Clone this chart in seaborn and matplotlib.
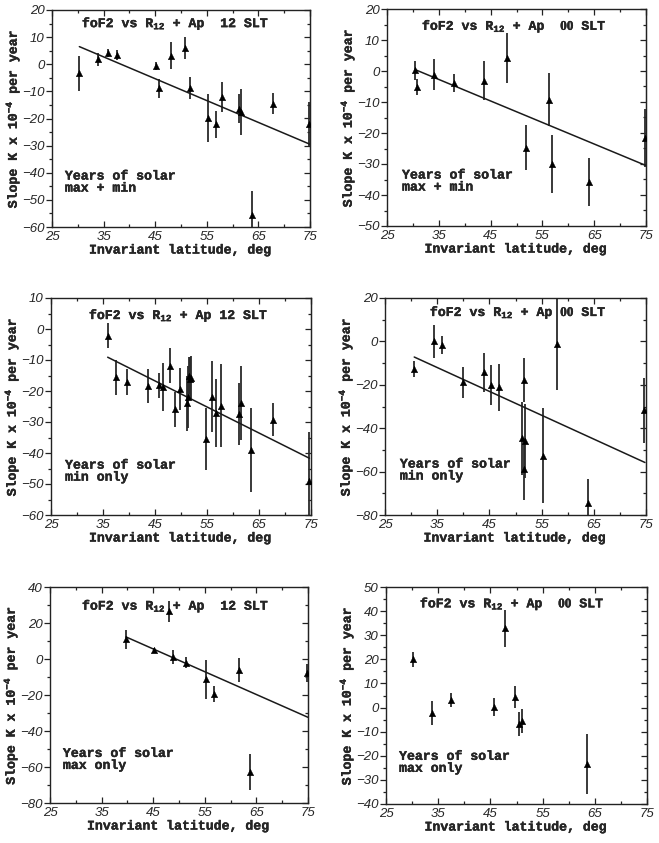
import numpy as np
import pandas as pd
import matplotlib
matplotlib.use("Agg")
import matplotlib.pyplot as plt
from matplotlib.ticker import MultipleLocator
import matplotlib.patheffects as pe
import seaborn as sns

# ---------------- data ----------------
# Panel 1: max + min, 12 SLT
lat1 = [30.3, 33.9, 35.8, 37.6, 45.1, 45.8, 48.0, 50.8, 51.8, 55.3, 56.8, 58.0, 61.3, 61.6, 63.7, 67.9, 74.9]
k1 = [-3.4, 1.8, 4.0, 3.4, -0.6, -8.9, 3.1, 6.1, -8.7, -19.8, -22.1, -12.2, -16.4, -17.6, -55.7, -14.5, -22.1]
e1 = [6.5, 2.5, 1.5, 2.0, 1.5, 3.5, 5.0, 4.0, 4.0, 8.7, 5.0, 5.5, 5.3, 8.5, 9.0, 4.0, 8.0]
fitlat1 = [30.3, 75.0]
fitk1 = [6.5, -29.5]

# Panel 2: max + min, 00 SLT
lat2 = [30.5, 30.85, 34.1, 37.85, 43.8, 48.1, 51.9, 56.2, 56.8, 63.9, 74.8]
k2 = [0.2, -5.2, -1.2, -3.9, -3.2, 4.1, -24.7, -9.3, -30.0, -35.9, -21.7]
e2 = [3.0, 2.7, 5.0, 3.0, 6.3, 8.0, 7.3, 8.5, 9.4, 7.7, 9.4]
fitlat2 = [30.5, 75.0]
fitk2 = [0.4, -30.5]

# Panel 3: min only, 12 SLT
lat3 = [35.9, 37.5, 39.6, 43.6, 45.7, 46.6, 47.9, 48.9, 49.9, 51.1, 51.3, 51.5, 51.7, 51.9,
        54.9, 55.9, 56.7, 57.7, 61.1, 61.5, 63.5, 67.6, 74.6]
k3 = [-2.2, -15.6, -17.1, -18.3, -18.2, -18.8, -11.8, -25.9, -19.4, -24.0, -22.0, -15.0, -16.0, -15.8,
      -35.6, -21.8, -27.2, -24.7, -27.4, -23.9, -39.0, -29.3, -49.1]
e3 = [4.0, 5.6, 4.2, 5.5, 4.0, 7.8, 5.7, 5.7, 6.7, 9.0, 10.0, 6.0, 7.0, 7.0,
      10.0, 11.5, 11.0, 13.5, 10.0, 12.0, 13.5, 5.3, 16.0]
fitlat3 = [35.9, 74.7]
fitk3 = [-9.1, -41.7]

# Panel 4: min only, 00 SLT
lat4 = [30.6, 34.3, 36.0, 39.9, 44.0, 45.4, 46.8, 51.3, 51.7, 51.7, 51.9, 55.3, 58.0, 63.8, 74.7]
k4 = [-12.8, 0.0, -1.7, -18.9, -14.3, -20.1, -21.2, -44.7, -17.8, -59.0, -45.9, -52.7, -1.1, -74.6, -31.8]
e4 = [3.8, 7.7, 4.0, 7.3, 9.0, 9.0, 11.0, 17.0, 10.0, 14.0, 17.0, 22.0, 21.3, 11.0, 15.0]
fitlat4 = [30.6, 74.8]
fitk4 = [-7.2, -55.8]

# Panel 5: max only, 12 SLT
lat5 = [39.7, 45.2, 48.0, 48.9, 51.3, 55.3, 56.7, 61.6, 63.7, 74.8]
k5 = [11.0, 4.9, 26.5, 1.2, -2.1, -11.3, -19.4, -6.2, -63.0, -8.0]
e5 = [5.3, 1.0, 6.0, 4.0, 3.0, 10.8, 4.4, 6.5, 10.0, 5.0]
fitlat5 = [39.7, 75.0]
fitk5 = [12.3, -32.4]

# Panel 6: max only, 00 SLT (no fit line)
lat6 = [30.2, 33.8, 37.4, 45.6, 47.8, 49.7, 50.4, 51.0, 63.5]
k6 = [20.0, -2.1, 3.1, 0.1, 32.8, 4.5, -6.8, -5.6, -23.3]
e6 = [3.0, 5.0, 2.8, 3.7, 7.5, 4.5, 4.8, 5.0, 12.4]

titles = ["foF2 vs R$_{12}$ + Ap  12 SLT", "foF2 vs R$_{12}$ + Ap  $\\mathsf{00}$ SLT",
          "foF2 vs R$_{12}$ + Ap 12 SLT", "foF2 vs R$_{12}$ + Ap $\\mathsf{00}$ SLT",
          "foF2 vs R$_{12}$ + Ap  12 SLT", "foF2 vs R$_{12}$ + Ap  $\\mathsf{00}$ SLT"]
notes = ["Years of solar\nmax + min", "Years of solar\nmax + min",
         "Years of solar\nmin only", "Years of solar\nmin only",
         "Years of solar\nmax only", "Years of solar\nmax only"]
ylims = [(-60, 20), (-50, 20), (-60, 10), (-80, 20), (-80, 40), (-40, 50)]
ymajor = [10, 10, 10, 20, 20, 10]
xticks = [25, 35, 45, 55, 65, 75]

# ---------------- styling ----------------
sns.set_style("ticks")
plt.rcParams["font.family"] = ["Liberation Mono", "DejaVu Sans"]
plt.rcParams["font.weight"] = "bold"
plt.rcParams["mathtext.fontset"] = "custom"
plt.rcParams["mathtext.rm"] = "Liberation Mono:bold"
plt.rcParams["mathtext.sf"] = "Liberation Serif:bold"
plt.rcParams["mathtext.default"] = "rm"
plt.rcParams["axes.unicode_minus"] = True

fig = plt.figure(figsize=(6.59, 8.43), dpi=100)

W, H = 659.0, 843.0
# axes boxes in pixels: left, top, right, bottom
boxes = [(52, 10, 310, 227), (387, 9, 646, 226),
         (51, 298, 311, 515), (385, 298, 646, 515),
         (50, 587, 308, 803), (386, 587, 647, 804)]
title_pos = [(0.116, 0.935), (0.135, 0.918), (0.146, 0.917), (0.172, 0.931), (0.124, 0.909), (0.13, 0.92)]
note_pos = [(0.05, 0.26), (0.058, 0.26), (0.054, 0.255), (0.057, 0.26), (0.05, 0.255), (0.05, 0.245)]

panels = [(lat1, k1, e1, fitlat1, fitk1), (lat2, k2, e2, fitlat2, fitk2),
          (lat3, k3, e3, fitlat3, fitk3), (lat4, k4, e4, fitlat4, fitk4),
          (lat5, k5, e5, fitlat5, fitk5), (lat6, k6, e6, None, None)]

thick = [pe.withStroke(linewidth=0.25, foreground="black")]

for i, (lat, k, e, fx, fy) in enumerate(panels):
    l, t, r, b = boxes[i]
    ax = fig.add_axes([l / W, 1 - b / H, (r - l) / W, (b - t) / H])
    df = pd.DataFrame({"lat": lat, "k": k, "err": e})
    ax.errorbar(df["lat"], df["k"], yerr=df["err"], fmt="none", ecolor="#2a2a2a",
                elinewidth=1.3, capsize=0, zorder=2)
    sns.scatterplot(data=df, x="lat", y="k", marker="^", color="black", s=22,
                    edgecolor="black", linewidth=0.3, ax=ax, zorder=3, legend=False)
    if fx is not None:
        fdf = pd.DataFrame({"lat": fx, "k": fy})
        sns.lineplot(data=fdf, x="lat", y="k", color="#1a1a1a", linewidth=1.1, ax=ax, zorder=2)
    ax.set_xlim(25, 75)
    ax.set_ylim(*ylims[i])
    ax.set_xticks(xticks)
    ax.xaxis.set_minor_locator(MultipleLocator(5))
    ax.yaxis.set_major_locator(MultipleLocator(ymajor[i]))
    ax.yaxis.set_minor_locator(MultipleLocator(ymajor[i] / 2))
    for s in ax.spines.values():
        s.set_linewidth(1.0)
        s.set_color("#222222")
    # x ticks inward on bottom and top
    ax.tick_params(axis="x", which="both", direction="in", top=True, bottom=True,
                   color="#222222", width=0.9)
    ax.tick_params(axis="x", which="major", length=4, pad=3)
    ax.tick_params(axis="x", which="minor", length=2.5)
    # y ticks outward on the left
    ax.tick_params(axis="y", which="both", direction="out", right=False,
                   color="#222222", width=0.9)
    ax.tick_params(axis="y", which="major", length=4, pad=1.5)
    ax.tick_params(axis="y", which="minor", length=2.5)
    for lab in ax.get_xticklabels() + ax.get_yticklabels():
        lab.set_fontfamily("Liberation Sans")
        lab.set_fontstyle("italic")
        lab.set_fontweight("normal")
        lab.set_fontsize(9.5)
    # inward ticks on the right
    secy = ax.secondary_yaxis("right")
    secy.yaxis.set_major_locator(MultipleLocator(ymajor[i]))
    secy.yaxis.set_minor_locator(MultipleLocator(ymajor[i] / 2))
    secy.tick_params(which="both", direction="in", labelright=False, color="#222222", width=0.9)
    secy.tick_params(which="major", length=4)
    secy.tick_params(which="minor", length=2.5)

    ax.set_xlabel("Invariant latitude, deg", fontsize=9.5, fontweight="bold", labelpad=1,
                  path_effects=thick)
    ax.set_ylabel("Slope K x 10$^{-4}$ per year", fontsize=9.5, fontweight="bold", labelpad=0,
                  path_effects=thick)
    ax.text(title_pos[i][0], title_pos[i][1], titles[i], transform=ax.transAxes,
            ha="left", va="center", fontsize=9.5, fontweight="bold", path_effects=thick)
    ax.text(note_pos[i][0], note_pos[i][1], notes[i], transform=ax.transAxes,
            ha="left", va="top", fontsize=9.5, fontweight="bold", linespacing=1.0,
            path_effects=thick)

fig.savefig("out.png", dpi=100)
